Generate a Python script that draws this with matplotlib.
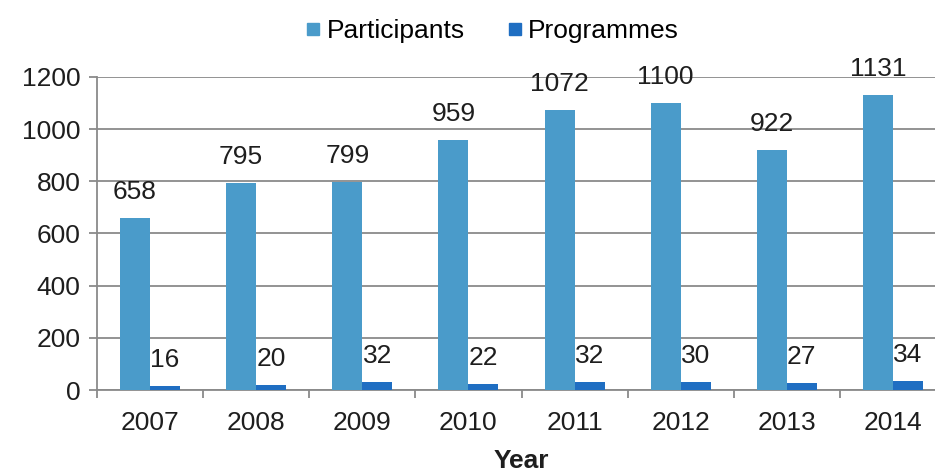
import matplotlib
matplotlib.use("Agg")
import matplotlib.pyplot as plt
import numpy as np
from matplotlib.lines import Line2D

years = ["2007", "2008", "2009", "2010", "2011", "2012", "2013", "2014"]
participants = [658, 795, 799, 959, 1072, 1100, 922, 1131]
programmes = [16, 20, 32, 22, 32, 30, 27, 34]
yticks = [0, 200, 400, 600, 800, 1000, 1200]

c_part = "#4a9bca"
c_prog = "#1f6ec2"
grid_c = "#8a8a8a"

plt.rcParams["font.family"] = ["Liberation Sans", "DejaVu Sans"]
fs = 19

fig = plt.figure(figsize=(9.35, 4.74), dpi=100)
ax = fig.add_axes([97/935, 1-390/474, 849/935, (390-77)/474])

x = np.arange(len(years))
w = 0.283
b1 = ax.bar(x - w/2, participants, w, color=c_part, zorder=3)
b2 = ax.bar(x + w/2, programmes, w, color=c_prog, zorder=3)

for bars, vals in ((b1, participants), (b2, programmes)):
    for r, v in zip(bars, vals):
        ax.annotate(str(v), (r.get_x() + r.get_width()/2, v), xytext=(0, 10),
                    textcoords="offset points", ha="center", va="bottom",
                    fontsize=fs, color="#1e1e1e", zorder=4)

ax.set_xlim(-0.5, len(years) - 0.5)
ax.set_ylim(0, 1200)
ax.set_yticks(yticks)
ax.set_yticklabels([str(t) for t in yticks], fontsize=fs, color="#1e1e1e")
ax.yaxis.grid(True, color=grid_c, linewidth=1.3, zorder=0)
ax.set_axisbelow(True)

ax.set_xticks(x)
ax.set_xticklabels(years, fontsize=fs, color="#1e1e1e")
ax.tick_params(axis="x", which="major", length=0, pad=15)
ax.set_xticks(np.arange(len(years) + 1) - 0.5, minor=True)
ax.tick_params(axis="x", which="minor", length=6, color=grid_c, width=1.3)
ax.tick_params(axis="y", length=6, color=grid_c, width=1.3, pad=6)

for s in ("top", "right"):
    ax.spines[s].set_visible(False)
for s in ("left", "bottom"):
    ax.spines[s].set_color(grid_c)
    ax.spines[s].set_linewidth(1.3)

ax.set_xlabel("Year", fontsize=fs, fontweight="bold", color="#1e1e1e", labelpad=10)

handles = [Line2D([], [], marker="s", linestyle="none", markersize=9, color=c_part),
           Line2D([], [], marker="s", linestyle="none", markersize=9, color=c_prog)]
fig.legend(handles, ["Participants", "Programmes"], loc="upper center",
           bbox_to_anchor=(0.525, 1.01), ncol=2, frameon=False, fontsize=fs,
           handletextpad=0.1, columnspacing=1.5, handlelength=0.8)

fig.savefig("out.png", dpi=100)
